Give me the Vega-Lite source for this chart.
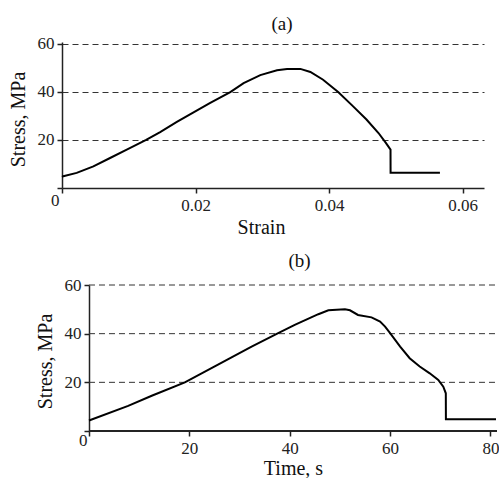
{
  "$schema": "https://vega.github.io/schema/vega-lite/v6.json",
  "background": "white",
  "padding": {"left": 8, "top": 14, "right": 2, "bottom": 0},
  "spacing": 15,
  "config": {
    "font": "Liberation Serif",
    "view": {"stroke": null},
    "axis": {
      "labelFont": "Liberation Serif",
      "titleFont": "Liberation Serif",
      "labelFontSize": 17,
      "titleFontSize": 20,
      "titleFontWeight": "normal",
      "labelColor": "#222",
      "titleColor": "#111",
      "domainColor": "#222",
      "domainWidth": 1.5,
      "tickColor": "#222",
      "tickWidth": 1.5,
      "tickSize": 5,
      "gridColor": "#333",
      "gridDash": [6, 4],
      "gridWidth": 1
    },
    "title": {"font": "Liberation Serif", "fontSize": 19, "fontWeight": "normal", "color": "#111"}
  },
  "datasets": {
    "a": [
      {"strain": 0.0, "stress": 4.6},
      {"strain": 0.0002, "stress": 4.9},
      {"strain": 0.0022, "stress": 6.3},
      {"strain": 0.0047, "stress": 9.0},
      {"strain": 0.0072, "stress": 12.5},
      {"strain": 0.0097, "stress": 16.0},
      {"strain": 0.0126, "stress": 20.0},
      {"strain": 0.0147, "stress": 23.3},
      {"strain": 0.0172, "stress": 27.5},
      {"strain": 0.0197, "stress": 31.5},
      {"strain": 0.0222, "stress": 35.4},
      {"strain": 0.0252, "stress": 39.9},
      {"strain": 0.0272, "stress": 43.7},
      {"strain": 0.0297, "stress": 47.0},
      {"strain": 0.0322, "stress": 49.0},
      {"strain": 0.0337, "stress": 49.6},
      {"strain": 0.0357, "stress": 49.6},
      {"strain": 0.0372, "stress": 48.3},
      {"strain": 0.0391, "stress": 45.1},
      {"strain": 0.0414, "stress": 39.9},
      {"strain": 0.0436, "stress": 34.0},
      {"strain": 0.0456, "stress": 28.5},
      {"strain": 0.0474, "stress": 22.9},
      {"strain": 0.0485, "stress": 18.8},
      {"strain": 0.0492, "stress": 16.0},
      {"strain": 0.04921, "stress": 6.3},
      {"strain": 0.0566, "stress": 6.3}
    ],
    "b": [
      {"time": 0.0, "stress": 4.3},
      {"time": 7.8, "stress": 10.3},
      {"time": 12.5, "stress": 14.5},
      {"time": 19.1, "stress": 20.0},
      {"time": 25.8, "stress": 27.4},
      {"time": 32.4, "stress": 34.7},
      {"time": 37.7, "stress": 40.2},
      {"time": 41.0, "stress": 43.6},
      {"time": 45.7, "stress": 48.0},
      {"time": 47.7, "stress": 49.6},
      {"time": 51.0, "stress": 50.0},
      {"time": 52.0, "stress": 49.6},
      {"time": 53.6, "stress": 47.7},
      {"time": 56.3, "stress": 46.7},
      {"time": 58.0, "stress": 45.0},
      {"time": 59.0, "stress": 42.9},
      {"time": 60.0, "stress": 40.2},
      {"time": 62.0, "stress": 34.7},
      {"time": 63.9, "stress": 29.9},
      {"time": 65.9, "stress": 26.5},
      {"time": 67.9, "stress": 23.7},
      {"time": 69.6, "stress": 21.0},
      {"time": 70.6, "stress": 18.2},
      {"time": 71.1, "stress": 15.5},
      {"time": 71.12, "stress": 4.8},
      {"time": 81.1, "stress": 4.8}
    ],
    "bgrid": [
      {"level": 20},
      {"level": 40},
      {"level": 60}
    ]
  },
  "vconcat": [
    {
      "width": 422,
      "height": 146,
      "title": {"text": "(a)", "dx": 9, "offset": 1, "font": "Liberation Serif", "fontSize": 19, "fontWeight": "normal"},
      "data": {"name": "a"},
      "mark": {"type": "line", "color": "black", "strokeWidth": 2},
      "encoding": {
        "x": {
          "field": "strain", "type": "quantitative",
          "scale": {"domain": [0, 0.0632], "nice": false, "zero": false},
          "axis": {
            "values": [0, 0.02, 0.04, 0.06],
            "labelExpr": "datum.value == 0 ? '0' : format(datum.value, '.2f')",
            "labelFont": "Liberation Serif",
            "labelFontSize": 17,
            "labelAlign": {"condition": {"test": "datum.value == 0", "value": "right"}, "value": "center"},
            "labelOffset": {"condition": {"test": "datum.value == 0", "value": -3}, "value": 0},
            "labelPadding": {"condition": {"test": "datum.value == 0", "value": -1}, "value": 4},
            "grid": false,
            "title": "Strain",
            "titleFont": "Liberation Serif",
            "titleFontSize": 20,
            "titleX": 199,
            "titlePadding": 4
          }
        },
        "y": {
          "field": "stress", "type": "quantitative",
          "scale": {"domain": [0, 60.8], "nice": false},
          "axis": {
            "values": [0, 20, 40, 60],
            "labelExpr": "datum.value == 0 ? '' : datum.label",
            "labelFont": "Liberation Serif",
            "labelFontSize": 17,
            "labelPadding": 3,
            "gridOpacity": {"condition": {"test": "datum.value == 0", "value": 0}, "value": 1},
            "title": "Stress, MPa",
            "titleFont": "Liberation Serif",
            "titleFontSize": 20,
            "titleY": 77,
            "titlePadding": 9
          }
        }
      }
    },
    {
      "width": 435,
      "height": 146,
      "title": {"text": "(b)", "dx": 20, "offset": 5, "font": "Liberation Serif", "fontSize": 19, "fontWeight": "normal"},
      "layer": [
        {
          "data": {"name": "bgrid"},
          "mark": {"type": "rule", "color": "#333", "strokeWidth": 1, "strokeDash": [6, 4]},
          "encoding": {
            "y": {"field": "level", "type": "quantitative"},
            "x": {"datum": 0},
            "x2": {"datum": 81.3}
          }
        },
        {
          "data": {"name": "bgrid"},
          "mark": {"type": "rule", "color": "#222", "strokeWidth": 1.5},
          "encoding": {
            "y": {"datum": 0},
            "x": {"datum": 0},
            "x2": {"datum": 81.3}
          }
        },
        {
          "data": {"name": "b"},
          "mark": {"type": "line", "color": "black", "strokeWidth": 2},
          "encoding": {
            "x": {
              "field": "time", "type": "quantitative",
              "scale": {"domain": [-5.38, 81.3], "nice": false, "zero": false},
              "axis": {
                "values": [0, 20, 40, 60, 80],
                "labelFont": "Liberation Serif",
                "labelFontSize": 17,
                "labelAlign": {"condition": {"test": "datum.value == 0", "value": "right"}, "value": "center"},
                "labelOffset": {"condition": {"test": "datum.value == 0", "value": -2}, "value": 0},
                "labelPadding": {"condition": {"test": "datum.value == 0", "value": -4}, "value": 4},
                "grid": false,
                "domain": false,
                "title": "Time, s",
                "titleFont": "Liberation Serif",
                "titleFontSize": 20,
                "titleX": 231,
                "titlePadding": 2
              }
            },
            "y": {
              "field": "stress", "type": "quantitative",
              "scale": {"domain": [0, 60], "nice": false},
              "axis": {
                "values": [0, 20, 40, 60],
                "labelExpr": "datum.value == 0 ? '' : datum.label",
                "labelFont": "Liberation Serif",
                "labelFontSize": 17,
                "labelPadding": 3,
                "grid": false,
                "offset": -27,
                "title": "Stress, MPa",
                "titleFont": "Liberation Serif",
                "titleFontSize": 20,
                "titleY": 76,
                "titlePadding": 9
              }
            }
          }
        }
      ]
    }
  ]
}
